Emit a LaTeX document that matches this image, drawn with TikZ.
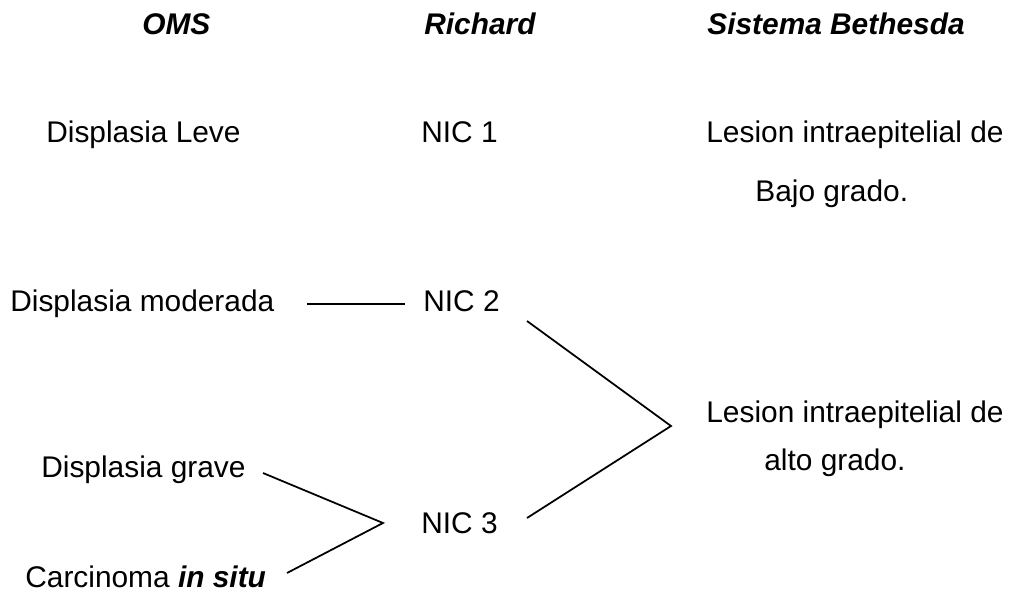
\documentclass[tikz,border=0pt]{standalone}
\usepackage{fontspec}
\setmainfont{Liberation Sans}
\usetikzlibrary{calc,
	positioning}
\tikzstyle{lbl}=[inner sep=0, anchor=base west, font=\fontsize{17}{20}\selectfont]
\tikzstyle{hd}=[lbl, font=\fontsize{17}{20}\selectfont\bfseries\itshape]
\tikzstyle{ln}=[draw, line width=1pt]

\begin{document}
\begin{tikzpicture}[x=0.02cm, y=-0.02cm]
	\useasboundingbox (0,0) rectangle (1013,594);
	% headers
	\node[hd] (oms) at (142,35) {OMS};
	\node[hd] (rich) at (424,35) {Richard};
	\node[hd] (beth) at (707,35) {Sistema Bethesda};
	% first row
	\node[lbl] (leve) at (46,143) {Displasia Leve};
	\node[lbl] (nic1) at (421,143) {NIC 1};
	\node[lbl] (lbajo) at (706,143) {Lesion intraepitelial de};
	\node[lbl] (bajo) at (755,202) {Bajo grado.};
	% second row
	\node[lbl] (mod) at (10,312) {Displasia moderada};
	\node[lbl] (nic2) at (423,312) {NIC 2};
	\node[lbl] (lalto) at (706,422) {Lesion intraepitelial de};
	\node[lbl] (alto) at (764,470) {alto grado.};
	% third row
	\node[lbl] (grave) at (41,477) {Displasia grave};
	\node[lbl] (nic3) at (421,533) {NIC 3};
	\node[lbl] (carc) at (25,587) {Carcinoma \textbf{\textit{in situ}}};
	% line ends
	\coordinate (n2end) at (527,321);
	\coordinate (n3end) at (527,518);
	\coordinate (tip) at (671,426);
	\coordinate (gend) at (263,473);
	\coordinate (cend) at (287,573);
	\coordinate (fork) at (383,523);
	% connectors
	\draw[ln, shorten <=0.64cm, shorten >=0.36cm] (mod.east) -- (mod.east -| nic2.west);
	\draw[ln] (n2end) -- (tip) -- (n3end);
	\draw[ln] (gend) -- (fork) -- (cend);
\end{tikzpicture}
\end{document}
